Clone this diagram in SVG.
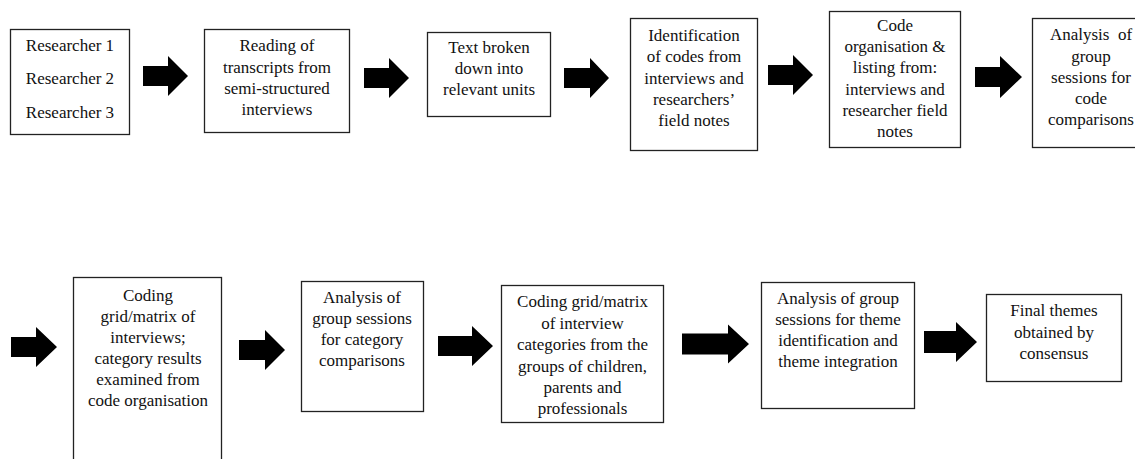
<svg xmlns="http://www.w3.org/2000/svg" width="1135" height="459" viewBox="0 0 1135 459">
<style>
.box{fill:#fff;stroke:#222;stroke-width:1.3}
.t{font-family:"Liberation Serif","Times New Roman",serif;font-size:17px;fill:#111;text-anchor:middle}
.arr{fill:#000}
</style>
<rect width="1135" height="459" fill="#fff"/>
<g id="connectors">
<path class="arr" d="M143,66 H168 V56 L188,76 L168,96 V86 H143 Z"/>
<path class="arr" d="M364,68 H389 V58 L409,78 L389,98 V88 H364 Z"/>
<path class="arr" d="M564,68 H590 V58 L609,78 L590,98 V88 H564 Z"/>
<path class="arr" d="M768,65 H793 V55 L813,75 L793,95 V85 H768 Z"/>
<path class="arr" d="M975,67 H1000 V56 L1022,77 L1000,98 V87 H975 Z"/>
<path class="arr" d="M11,337 H36 V327 L57,347 L36,367 V357 H11 Z"/>
<path class="arr" d="M239,340 H265 V330 L285,350 L265,370 V360 H239 Z"/>
<path class="arr" d="M438,336 H472 V326 L493,346 L472,366 V356 H438 Z"/>
<path class="arr" d="M682,333.5 H728 V324.5 L749,344 L728,363.5 V354.5 H682 Z"/>
<path class="arr" d="M924,331 H956 V322 L977,342 L956,362 V353 H924 Z"/>
</g>
<g id="n1">
<rect class="box" x="10.5" y="29.5" width="119" height="105"/>
<text class="t" x="70" y="51">Researcher 1</text>
<text class="t" x="70" y="84">Researcher 2</text>
<text class="t" x="70" y="117.5">Researcher 3</text>
</g>
<g id="n2">
<rect class="box" x="204.5" y="29.5" width="145" height="103"/>
<text class="t" x="277" y="51">Reading of</text>
<text class="t" x="277" y="72.5">transcripts from</text>
<text class="t" x="277" y="93.5">semi-structured</text>
<text class="t" x="277" y="114.5">interviews</text>
</g>
<g id="n3">
<rect class="box" x="427.5" y="32.5" width="123" height="84"/>
<text class="t" x="489" y="52.5">Text broken</text>
<text class="t" x="489" y="73.5">down into</text>
<text class="t" x="489" y="95">relevant units</text>
</g>
<g id="n4">
<rect class="box" x="630.5" y="18.5" width="127" height="132"/>
<text class="t" x="694" y="41">Identification</text>
<text class="t" x="694" y="62">of codes from</text>
<text class="t" x="694" y="83.5">interviews and</text>
<text class="t" x="694" y="104.5">researchers’</text>
<text class="t" x="694" y="126">field notes</text>
</g>
<g id="n5">
<rect class="box" x="829.5" y="11.5" width="131" height="136"/>
<text class="t" x="895" y="30.5">Code</text>
<text class="t" x="895" y="52">organisation &amp;</text>
<text class="t" x="895" y="73">listing from:</text>
<text class="t" x="895" y="94.5">interviews and</text>
<text class="t" x="895" y="115.5">researcher field</text>
<text class="t" x="895" y="136.5">notes</text>
</g>
<g id="n6">
<rect class="box" x="1032.5" y="18.5" width="120" height="129"/>
<text class="t" x="1091" y="40" xml:space="preserve">Analysis  of</text>
<text class="t" x="1091" y="61.5">group</text>
<text class="t" x="1091" y="82.5">sessions for</text>
<text class="t" x="1091" y="104">code</text>
<text class="t" x="1091" y="125">comparisons</text>
</g>
<g id="n7">
<rect class="box" x="73.5" y="277.5" width="148" height="200"/>
<text class="t" x="148" y="300.5">Coding</text>
<text class="t" x="148" y="321.5">grid/matrix of</text>
<text class="t" x="148" y="342.5">interviews;</text>
<text class="t" x="148" y="363.5">category results</text>
<text class="t" x="148" y="384.5">examined from</text>
<text class="t" x="148" y="405.5">code organisation</text>
</g>
<g id="n8">
<rect class="box" x="301.5" y="281.5" width="122" height="130"/>
<text class="t" x="362" y="302.5">Analysis of</text>
<text class="t" x="362" y="323.5">group sessions</text>
<text class="t" x="362" y="344.5">for category</text>
<text class="t" x="362" y="365.5">comparisons</text>
</g>
<g id="n9">
<rect class="box" x="501.5" y="285.5" width="162" height="137"/>
<text class="t" x="582.5" y="307">Coding grid/matrix</text>
<text class="t" x="582.5" y="328.5">of interview</text>
<text class="t" x="582.5" y="350">categories from the</text>
<text class="t" x="582.5" y="371.5">groups of children,</text>
<text class="t" x="582.5" y="393">parents and</text>
<text class="t" x="582.5" y="414">professionals</text>
</g>
<g id="n10">
<rect class="box" x="761.5" y="282.5" width="153" height="126"/>
<text class="t" x="838" y="303.5">Analysis of group</text>
<text class="t" x="838" y="325">sessions for theme</text>
<text class="t" x="838" y="346">identification and</text>
<text class="t" x="838" y="367">theme integration</text>
</g>
<g id="n11">
<rect class="box" x="986.5" y="294.5" width="135" height="87"/>
<text class="t" x="1054" y="316">Final themes</text>
<text class="t" x="1054" y="337.5">obtained by</text>
<text class="t" x="1054" y="359">consensus</text>
</g>
</svg>
